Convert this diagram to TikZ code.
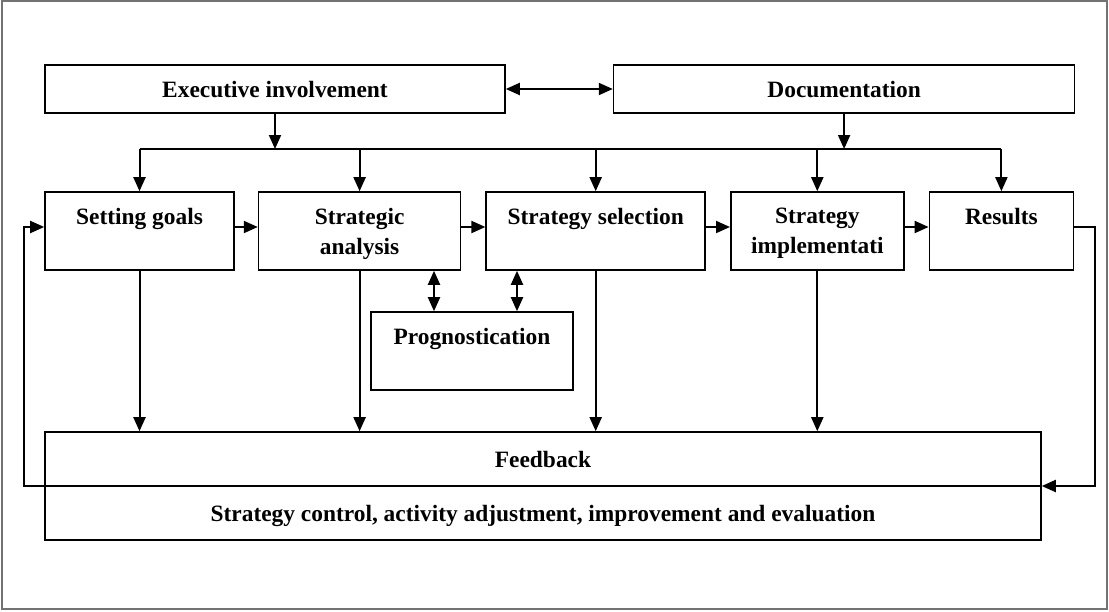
\documentclass[tikz,border=0pt]{standalone}
\usepackage{fontspec}
\setmainfont{Liberation Serif}
\usepackage{tikz}
\usetikzlibrary{arrows.meta,positioning,calc}

\begin{document}
\begin{tikzpicture}[
  >={Triangle[length=7pt,width=6pt]},
  font=\fontsize{11.7}{15}\selectfont\bfseries,
  box/.style={draw, line width=.8pt, align=center, inner sep=0pt,
    minimum height=39pt, text depth=0pt},
  topbox/.style={box, minimum height=24pt},
  flow/.style={->, line width=1pt},
  both/.style={<->, line width=1pt}
]
  \useasboundingbox (0,0) rectangle (554.5pt,-305.5pt);
  \draw[black!55, line width=.8pt] (1pt,-.5pt) rectangle (553.5pt,-304.5pt);

  % top row
  \node[topbox, minimum width=230pt] (exec) at (137.5pt,-44.5pt) {Executive involvement};
  \node[topbox, minimum width=230.5pt, right=53.5pt of exec] (doc) {Documentation};

  % process row
  \node[box, minimum width=94.5pt] (goals) at (69.75pt,-115.5pt) {Setting goals\\\mbox{}};
  \node[box, minimum width=101pt, right=11.5pt of goals] (analysis) {Strategic\\analysis};
  \node[box, minimum width=109.5pt, right=12pt of analysis] (select) {Strategy selection\\\mbox{}};
  \node[box, minimum width=86.5pt, right=12pt of select] (impl) {Strategy\\implementati};
  \node[box, minimum width=72pt, right=12pt of impl] (results) {Results\\\mbox{}};

  \node[box, minimum width=101pt] (prog) at (236pt,-175.5pt) {Prognostication\\\mbox{}};

  \node[box, minimum width=498pt, minimum height=54pt] (fb) at (271.5pt,-243pt)
    {Feedback\\[12pt]Strategy control, activity adjustment, improvement and evaluation};

  \coordinate (bus) at (0,-74.5pt);

  \draw[both] (exec.east) -- (doc.west);
  \draw[flow] (exec.south) -- (exec.south |- bus);
  \draw[flow] (doc.south) -- (doc.south |- bus);
  \draw[line width=1pt] (goals.north |- bus) -- (results.north |- bus);
  \foreach \n in {goals,analysis,select,impl,results}
    \draw[flow] (\n.north |- bus) -- (\n.north);

  \draw[flow] ([yshift=2pt]goals.east) -- ([yshift=2pt]analysis.west);
  \draw[flow] ([yshift=2pt]analysis.east) -- ([yshift=2pt]select.west);
  \draw[flow] ([yshift=2pt]select.east) -- ([yshift=2pt]impl.west);
  \draw[flow] ([yshift=2pt]impl.east) -- ([yshift=2pt]results.west);

  \draw[both] ([xshift=-19pt]prog.north) -- ([xshift=-19pt]prog.north |- analysis.south);
  \draw[both] ([xshift=22.5pt]prog.north) -- ([xshift=22.5pt]prog.north |- select.south);

  \foreach \n in {goals,analysis,select,impl}
    \draw[flow] (\n.south) -- (\n.south |- fb.north);

  % feedback loop
  \draw[line width=1pt] (fb.west) -- (fb.east);
  \draw[flow] ([yshift=2pt]results.east) -- ++(10.5pt,0) |- (fb.east);
  \draw[flow] (fb.west) -- ++(-10pt,0) |- ([yshift=2pt]goals.west);
\end{tikzpicture}
\end{document}
